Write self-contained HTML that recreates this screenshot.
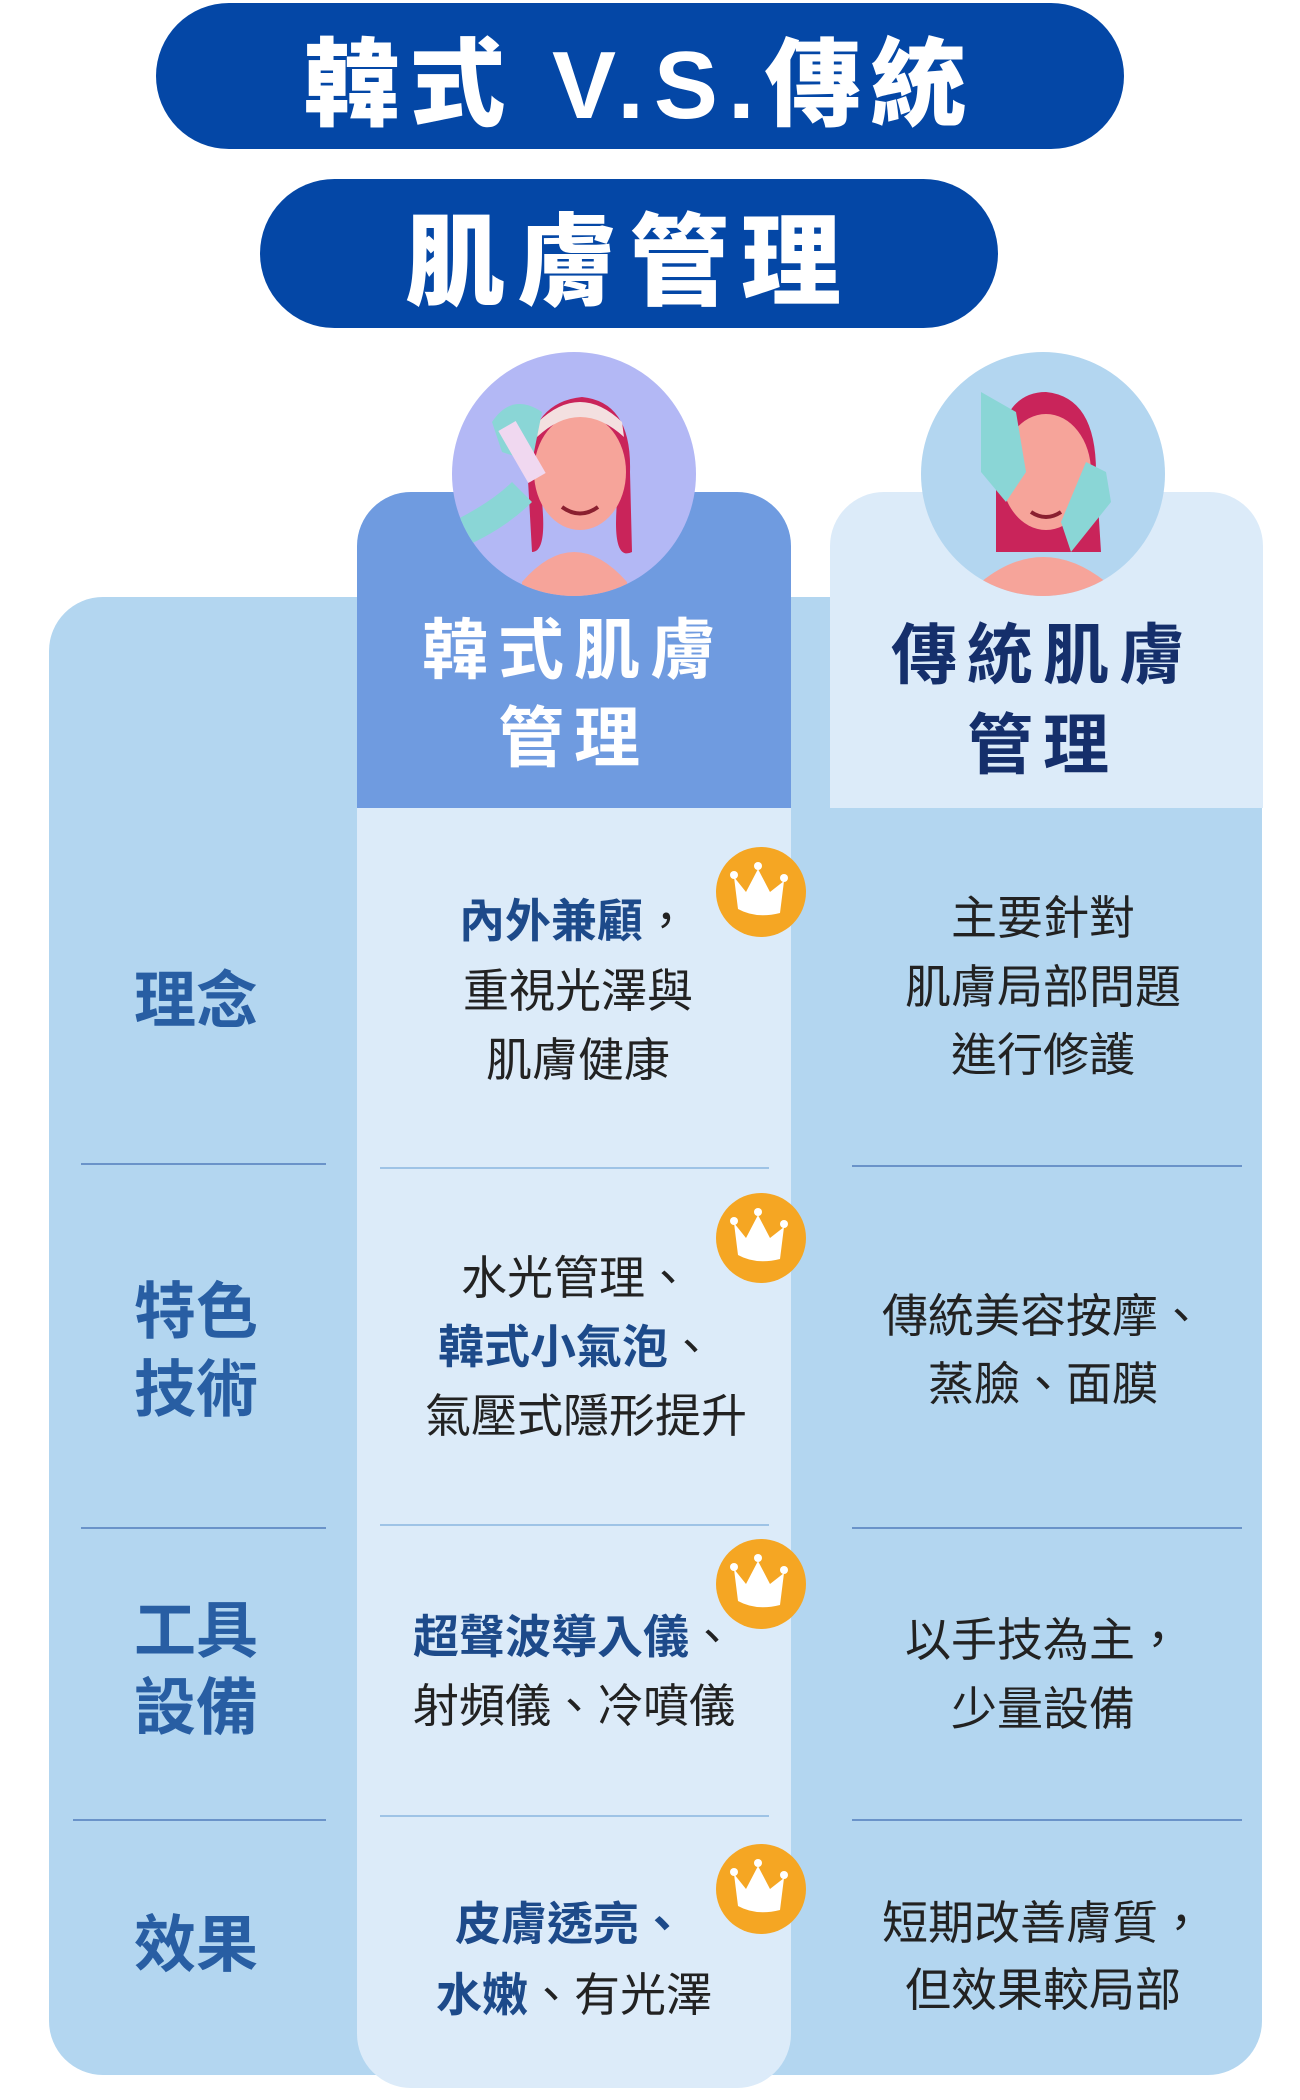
<!DOCTYPE html>
<html><head><meta charset="utf-8"><style>
*{margin:0;padding:0;box-sizing:border-box}
body{width:1300px;height:2100px;background:#fff;position:relative;overflow:hidden;font-family:"Liberation Sans","Noto Sans CJK TC",sans-serif}
.a{position:absolute}
.pill{background:#0447a6;color:#fff;font-weight:900;display:flex;align-items:center;justify-content:center;border-radius:80px}
.t{position:absolute;transform:translate(-50%,-50%);white-space:nowrap;font-size:46px;color:#222;line-height:1}
.b{font-weight:700;color:#1d4a8a}
.lbl{position:absolute;transform:translate(-50%,-50%);font-size:62px;font-weight:700;color:#285ea3;line-height:1}
.hl{position:absolute;height:2px;background:#6a93c9}
.crown{position:absolute;width:90px;height:90px;border-radius:50%;background:#f5a623}
</style></head><body>
<div class="a pill" style="left:156px;top:3px;width:968px;height:146px;font-size:96px;letter-spacing:10px">韓式 V.S.傳統</div>
<div class="a pill" style="left:260px;top:179px;width:738px;height:149px;font-size:100px;letter-spacing:12px">肌膚管理</div>

<div class="a" style="left:49px;top:597px;width:1213px;height:1478px;background:#b3d6f0;border-radius:54px"></div>
<div class="a" style="left:357px;top:492px;width:434px;height:1596px;background:#dcebf9;border-radius:54px"></div>
<div class="a" style="left:357px;top:492px;width:434px;height:316px;background:#6f9be0;border-radius:54px 54px 0 0"></div>
<div class="a" style="left:830px;top:492px;width:433px;height:316px;background:#dcebf9;border-radius:54px 54px 0 0"></div>

<svg class="a" style="left:452px;top:352px" width="244" height="244" viewBox="0 0 244 244">
<defs><clipPath id="c1"><circle cx="122" cy="122" r="122"/></clipPath></defs>
<circle cx="122" cy="122" r="122" fill="#b3b8f5"/>
<g clip-path="url(#c1)">
<path d="M70 230 Q122 170 175 230 L175 250 L70 250Z" fill="#f6a49a"/>
<path d="M75 110 Q80 50 130 45 Q180 50 178 120 L180 200 Q160 210 165 150 L90 150 Q95 200 80 200Z" fill="#c9245a"/>
<ellipse cx="128" cy="120" rx="46" ry="58" fill="#f6a49a"/>
<path d="M85 85 Q128 45 172 85 L170 70 Q128 30 86 70Z" fill="#f3e0e0"/>
<path d="M110 155 Q128 168 146 155" stroke="#8a2030" stroke-width="4" fill="none"/>
<path d="M40 70 Q60 40 90 60 L80 110 L50 100Z" fill="#8ad6d6"/>
<rect x="60" y="70" width="20" height="60" fill="#f0d8f0" transform="rotate(-30 70 100)"/>
<path d="M0 170 Q40 150 60 130 L80 150 Q50 180 0 200Z" fill="#8ad6d6"/>
</g></svg>
<svg class="a" style="left:921px;top:352px" width="244" height="244" viewBox="0 0 244 244">
<defs><clipPath id="c2"><circle cx="122" cy="122" r="122"/></clipPath></defs>
<circle cx="122" cy="122" r="122" fill="#b3d6f0"/>
<g clip-path="url(#c2)">
<path d="M60 230 Q122 180 185 230 L185 250 L60 250Z" fill="#f6a49a"/>
<path d="M75 110 Q80 40 125 40 Q175 45 175 120 L180 200 L75 200Z" fill="#c9245a"/>
<ellipse cx="125" cy="120" rx="45" ry="58" fill="#f6a49a"/>
<path d="M60 40 L95 60 L105 120 L85 150 L60 120Z" fill="#8ad6d6"/>
<path d="M185 120 L165 110 L140 170 L150 200 L190 150Z" fill="#8ad6d6"/>
<path d="M110 160 Q125 170 140 160" stroke="#8a2030" stroke-width="4" fill="none"/>
</g></svg>

<div class="t" style="left:574px;top:650px;font-size:66px;font-weight:700;color:#fff;letter-spacing:10px">韓式肌膚</div>
<div class="t" style="left:574px;top:738px;font-size:66px;font-weight:700;color:#fff;letter-spacing:10px">管理</div>
<div class="t" style="left:1043px;top:655px;font-size:66px;font-weight:700;color:#152f6b;letter-spacing:10px">傳統肌膚</div>
<div class="t" style="left:1043px;top:745px;font-size:66px;font-weight:700;color:#152f6b;letter-spacing:10px">管理</div>

<div class="hl" style="left:81px;top:1163px;width:245px"></div><div class="hl" style="left:380px;top:1167px;width:389px;background:#9ec3e6"></div><div class="hl" style="left:852px;top:1165px;width:390px"></div>
<div class="hl" style="left:81px;top:1527px;width:245px"></div><div class="hl" style="left:380px;top:1524px;width:389px;background:#9ec3e6"></div><div class="hl" style="left:852px;top:1527px;width:390px"></div>
<div class="hl" style="left:73px;top:1819px;width:253px"></div><div class="hl" style="left:380px;top:1815px;width:389px;background:#9ec3e6"></div><div class="hl" style="left:852px;top:1819px;width:390px"></div>

<div class="lbl" style="left:196px;top:1002px">理念</div>
<div class="lbl" style="left:196px;top:1313px">特色</div><div class="lbl" style="left:196px;top:1391px">技術</div>
<div class="lbl" style="left:196px;top:1632px">工具</div><div class="lbl" style="left:196px;top:1709px">設備</div>
<div class="lbl" style="left:196px;top:1946px">效果</div>

<div class="t" style="left:574px;top:921px"><span class="b">內外兼顧</span>，</div>
<div class="t" style="left:578px;top:991px">重視光澤與</div>
<div class="t" style="left:578px;top:1060px">肌膚健康</div>
<div class="t" style="left:1043px;top:918px">主要針對</div>
<div class="t" style="left:1043px;top:987px">肌膚局部問題</div>
<div class="t" style="left:1043px;top:1055px">進行修護</div>

<div class="t" style="left:576px;top:1278px">水光管理、</div>
<div class="t" style="left:576px;top:1347px"><span class="b">韓式小氣泡</span>、</div>
<div class="t" style="left:586px;top:1416px">氣壓式隱形提升</div>
<div class="t" style="left:1043px;top:1316px">傳統美容按摩、</div>
<div class="t" style="left:1043px;top:1384px">蒸臉、面膜</div>

<div class="t" style="left:574px;top:1637px"><span class="b">超聲波導入儀</span>、</div>
<div class="t" style="left:574px;top:1706px">射頻儀、冷噴儀</div>
<div class="t" style="left:1043px;top:1640px">以手技為主，</div>
<div class="t" style="left:1043px;top:1709px">少量設備</div>

<div class="t" style="left:570px;top:1924px"><span class="b">皮膚透亮、</span></div>
<div class="t" style="left:574px;top:1995px"><span class="b">水嫩</span>、有光澤</div>
<div class="t" style="left:1043px;top:1923px">短期改善膚質，</div>
<div class="t" style="left:1043px;top:1990px">但效果較局部</div>

<div class="crown" style="left:716px;top:847px"></div>
<div class="crown" style="left:716px;top:1193px"></div>
<div class="crown" style="left:716px;top:1539px"></div>
<div class="crown" style="left:716px;top:1844px"></div>
<svg class="a" style="left:716px;top:847px" width="90" height="1100" viewBox="0 0 90 1100">
<g id="cr" fill="#fff"><path d="M18 30 L30 45 L42 22 L54 45 L68 34 L64 66 Q40 72 22 62Z"/><circle cx="18" cy="28" r="4"/><circle cx="42" cy="19" r="4"/><circle cx="68" cy="31" r="4"/></g>
<use href="#cr" y="346"/><use href="#cr" y="692"/><use href="#cr" y="997"/>
</svg>
</body></html>
